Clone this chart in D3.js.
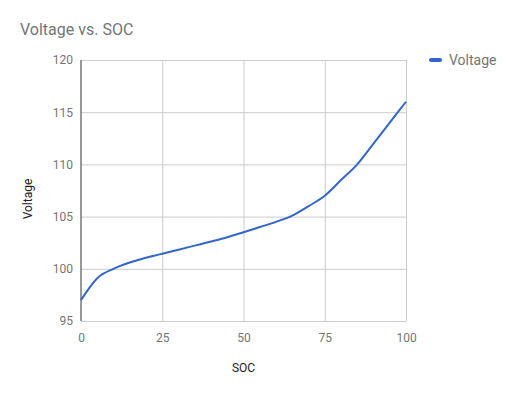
<!DOCTYPE html>
<html>
<head>
<meta charset="utf-8">
<script src="https://cdn.jsdelivr.net/npm/d3@7"></script>
<style>
  body { margin: 0; background: #fff; }
  svg text { font-family: Roboto, "Noto Sans", sans-serif; }
</style>
</head>
<body>
<div id="chart"></div>
<script>
// data
var soc     = [0, 5, 10, 15, 20, 25, 30, 35, 40, 45, 50, 55, 60, 65, 70, 75, 80, 85, 90, 95, 100];
var voltage = [97.0, 99.1, 100.0, 100.6, 101.05, 101.45, 101.83, 102.22, 102.61, 103.02, 103.5, 104.0, 104.5, 105.1, 106.0, 107.0, 108.5, 110.0, 112.0, 114.0, 116.0];
var xTicks  = [0, 25, 50, 75, 100];
var yTicks  = [95, 100, 105, 110, 115, 120];

var W = 517, H = 395;
var margin = {top: 60, right: 111, bottom: 74, left: 81};
var width  = W - margin.left - margin.right,
    height = H - margin.top - margin.bottom;

var svg = d3.select("#chart").append("svg")
    .attr("width", W)
    .attr("height", H);

var g = svg.append("g")
    .attr("transform", "translate(" + margin.left + "," + margin.top + ")");

var x = d3.scaleLinear().domain([0, 100]).range([0, width]);
var y = d3.scaleLinear().domain([95, 120]).range([height, 0]);

// gridlines
g.append("g")
    .attr("class", "ygrid")
    .call(d3.axisLeft(y).tickValues(yTicks).tickSize(-width).tickFormat(""))
    .call(function(s) { s.select(".domain").remove(); s.selectAll("line").attr("stroke", "#cccccc"); });

g.append("g")
    .attr("class", "xgrid")
    .attr("transform", "translate(0," + height + ")")
    .call(d3.axisBottom(x).tickValues(xTicks.slice(1)).tickSize(-height).tickFormat(""))
    .call(function(s) { s.select(".domain").remove(); s.selectAll("line").attr("stroke", "#cccccc"); });

// tick labels
g.append("g")
    .attr("transform", "translate(0," + height + ")")
    .call(d3.axisBottom(x).tickValues(xTicks).tickSize(0).tickPadding(12))
    .call(function(s) {
        s.select(".domain").remove();
        s.selectAll("text").attr("fill", "#757575").attr("font-size", 12)
            .attr("font-family", "Roboto, sans-serif");
    });

g.append("g")
    .call(d3.axisLeft(y).tickValues(yTicks).tickSize(0).tickPadding(8))
    .call(function(s) {
        s.select(".domain").remove();
        s.selectAll("text").attr("fill", "#757575").attr("font-size", 12)
            .attr("font-family", "Roboto, sans-serif");
    });

// left baseline
g.append("line")
    .attr("x1", 0).attr("x2", 0)
    .attr("y1", 0).attr("y2", height)
    .attr("stroke", "#333333")
    .attr("stroke-width", 1);

// the series
var pts = soc.map(function(s, i) { return [s, voltage[i]]; });
var line = d3.line()
    .x(function(d) { return x(d[0]); })
    .y(function(d) { return y(d[1]); })
    .curve(d3.curveMonotoneX);

g.append("path")
    .datum(pts)
    .attr("fill", "none")
    .attr("stroke", "#3366cc")
    .attr("stroke-width", 2)
    .attr("stroke-linejoin", "round")
    .attr("d", line);

// title
svg.append("text")
    .attr("x", 20).attr("y", 35)
    .attr("font-size", 16)
    .attr("fill", "#757575")
    .text("Voltage vs. SOC");

// axis titles
svg.append("text")
    .attr("x", margin.left + width / 2).attr("y", 372)
    .attr("text-anchor", "middle")
    .attr("font-size", 12)
    .attr("fill", "#222222")
    .text("SOC");

svg.append("text")
    .attr("transform", "translate(32," + 199 + ") rotate(-90)")
    .attr("text-anchor", "middle")
    .attr("font-size", 12)
    .attr("fill", "#222222")
    .text("Voltage");

// legend
var leg = svg.append("g").attr("transform", "translate(430,60)");
leg.append("line")
    .attr("x1", 1).attr("x2", 10)
    .attr("stroke", "#3366cc")
    .attr("stroke-width", 4)
    .attr("stroke-linecap", "round");
leg.append("text")
    .attr("x", 19).attr("y", 5)
    .attr("font-size", 14)
    .attr("fill", "#757575")
    .text("Voltage");
</script>
</body>
</html>
